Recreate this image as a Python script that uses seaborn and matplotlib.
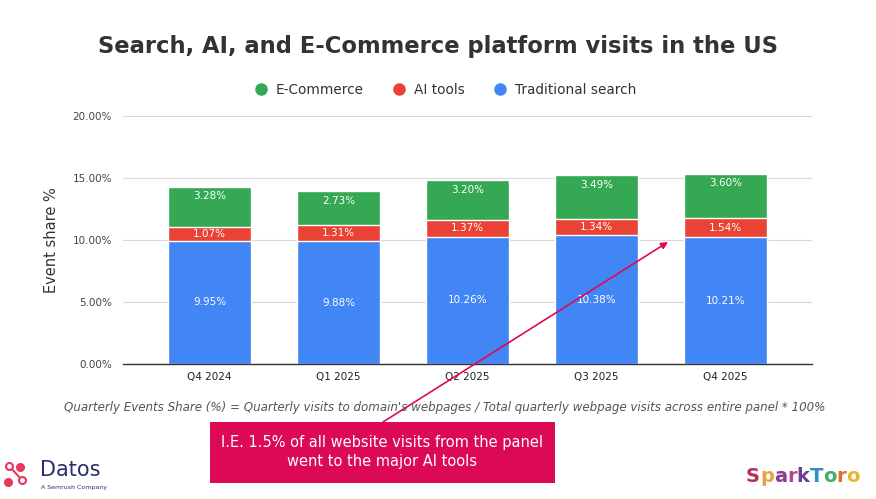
import pandas as pd
import numpy as np
import seaborn as sns
import matplotlib.pyplot as plt
import matplotlib.patches as mpatches
from matplotlib.lines import Line2D

quarters = ["Q4 2024", "Q1 2025", "Q2 2025", "Q3 2025", "Q4 2025"]
tradSearch = [9.95, 9.88, 10.26, 10.38, 10.21]
aiTools = [1.07, 1.31, 1.37, 1.34, 1.54]
eCommerce = [3.28, 2.73, 3.20, 3.49, 3.60]

green = "#34A853"
red = "#EA4335"
blue = "#4285F4"

df = pd.DataFrame({"quarter": quarters, "trad": tradSearch, "ai": aiTools, "ecom": eCommerce})
df["low"] = df["trad"]
df["mid"] = df["trad"] + df["ai"]
df["top"] = df["mid"] + df["ecom"]

sns.set_style("white")
plt.rcParams["font.family"] = ["DejaVu Sans"]

W, H = 876, 499
fig = plt.figure(figsize=(W / 100, H / 100), dpi=100)
ax = fig.add_axes([123 / W, 1 - 364 / H, (812 - 123) / W, (364 - 116) / H])

bw = 83 / 129
sns.barplot(ax=ax, data=df, x="quarter", y="top", color=green, width=bw, saturation=1)
sns.barplot(ax=ax, data=df, x="quarter", y="mid", color=red, width=bw, saturation=1)
sns.barplot(ax=ax, data=df, x="quarter", y="low", color=blue, width=bw, saturation=1)

for i in range(len(quarters)):
    ax.text(i, df["low"][i] / 2, f"{tradSearch[i]:.2f}%", ha="center", va="center", color="white", fontsize=7.5)
    ax.text(i, df["low"][i] + aiTools[i] / 2, f"{aiTools[i]:.2f}%", ha="center", va="center", color="white", fontsize=7.5)
    ax.text(i, df["top"][i] - 0.76, f"{eCommerce[i]:.2f}%", ha="center", va="center", color="white", fontsize=7.5)

ax.set_xlim(-0.67, 4.67)
ax.set_ylim(0, 20)
ax.set_yticks([0, 5, 10, 15, 20])
ax.set_yticklabels([f"{v:.2f}%" for v in [0, 5, 10, 15, 20]], fontsize=7.5, color="#444444")
ax.tick_params(axis="x", labelsize=7.5, colors="#222222", length=0, pad=6)
ax.tick_params(axis="y", length=0, pad=8)
ax.set_xlabel("")
ax.set_ylabel("Event share %", fontsize=10.5, color="#333333", labelpad=10)
ax.yaxis.grid(True, color="#d9d9d9", linewidth=0.8)
ax.set_axisbelow(True)
for s in ["top", "right", "left"]:
    ax.spines[s].set_visible(False)
ax.spines["bottom"].set_color("#333333")
ax.spines["bottom"].set_linewidth(1)

fig.text(438 / W, 1 - 46 / H, "Search, AI, and E-Commerce platform visits in the US",
         ha="center", va="center", fontsize=16.3, fontweight="bold", color="#333333")

handles = [Line2D([], [], marker="o", linestyle="", markersize=8, color=c) for c in [green, red, blue]]
fig.legend(handles, ["E-Commerce", "AI tools", "Traditional search"], loc="center",
           bbox_to_anchor=(442 / W, 1 - 90 / H), ncol=3, frameon=False, fontsize=9.8,
           handletextpad=0.1, columnspacing=1.6, labelcolor="#333333")

fig.text(445 / W, 1 - 408 / H,
         "Quarterly Events Share (%) = Quarterly visits to domain's webpages / Total quarterly webpage visits across entire panel * 100%",
         ha="center", va="center", fontsize=8.55, style="italic", color="#555555")

# callout box and arrow
box = mpatches.Rectangle((210 / W, 1 - 483 / H), (555 - 210) / W, (483 - 422) / H,
                         transform=fig.transFigure, facecolor="#DC0A55", edgecolor="none")
fig.add_artist(box)
fig.text(382 / W, 1 - 452 / H, "I.E. 1.5% of all website visits from the panel\nwent to the major AI tools",
         ha="center", va="center", fontsize=10.5, color="white", linespacing=1.4)
ax.annotate("", xy=(668 / W, 1 - 242 / H), xycoords="figure fraction",
            xytext=(383 / W, 1 - 422 / H), textcoords="figure fraction",
            arrowprops=dict(arrowstyle="-|>", color="#DC0A55", lw=1.2, mutation_scale=10,
                            shrinkA=0, shrinkB=0))

# Datos logo
fig.add_artist(Line2D([9 / W, 22 / W], [1 - 466 / H, 1 - 480 / H], transform=fig.transFigure,
                      color="#E8365D", lw=1.5))
for px, py, fc in [(9, 466, "white"), (22, 480, "white"), (20, 467, "#E8365D"), (8, 482, "#E8365D")]:
    fig.add_artist(Line2D([px / W], [1 - py / H], transform=fig.transFigure, marker="o", markersize=5,
                          color="#E8365D", markerfacecolor=fc, markeredgewidth=1.5))
fig.text(40 / W, 1 - 470 / H, "Datos", fontsize=15, color="#2B2C6B", va="center", ha="left")
fig.text(41 / W, 1 - 487 / H, "A Semrush Company", fontsize=4.5, color="#2B2C6B", va="center", ha="left")

# SparkToro logo, one colour per letter
letters = "SparkToro"
colors = ["#B0325A", "#E8A33D", "#8E3C8E", "#C2408A", "#6A3D9A", "#2F8FC8", "#3FAF6B", "#E26A2C", "#E8B72F"]
t = fig.text(746 / W, 1 - 476 / H, letters[0], fontsize=14, fontweight="bold", color=colors[0],
             va="center", ha="left")
for ch, c in zip(letters[1:], colors[1:]):
    t = fig.text(0, 0, ch, fontsize=14, fontweight="bold", color=c, va="center", ha="left",
                 transform=t.get_transform()) if False else \
        plt.annotate(ch, xy=(1, 0.5), xycoords=t, va="center", ha="left", fontsize=14,
                     fontweight="bold", color=c, annotation_clip=False)

fig.savefig("out.png", dpi=100, facecolor="white")
